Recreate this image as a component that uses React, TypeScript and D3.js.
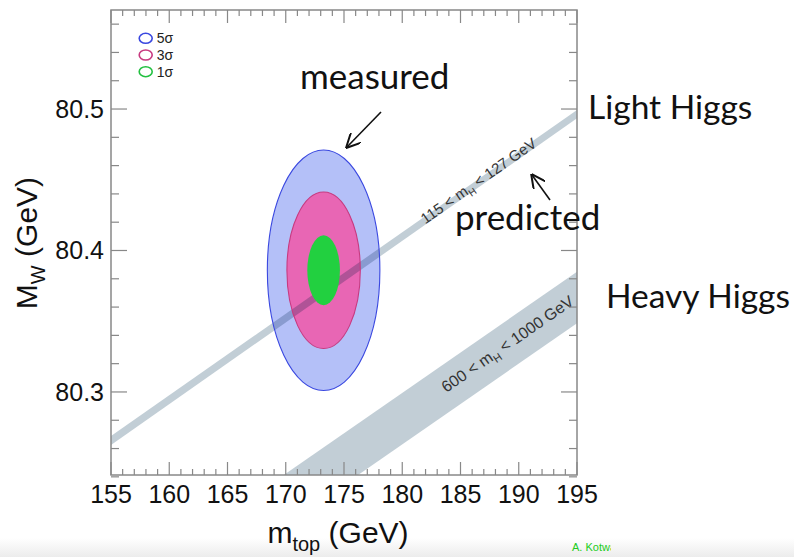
import React from 'react';
import * as d3 from 'd3';

// measured ellipses (5σ, 3σ, 1σ)
const sigmaLabels = ['5σ', '3σ', '1σ'];
const sigmaFill = ['#b4c0f8', '#e866b4', '#22d040'];
const sigmaStroke = ['#3a48e0', '#c83a80', '#22c040'];
const centerMtop = 173.25;
const centerMw = 80.386;
const halfMtop = [4.83, 3.15, 1.4];
const halfMw = [0.085, 0.0553, 0.0247];

// predicted bands, edges at mtop = 155 and 195
const bandMtop = [155, 195];
const lightLow = [80.2625, 80.4934];
const lightHigh = [80.2689, 80.4993];
const heavyLow = [80.1202, 80.3486];
const heavyHigh = [80.1566, 80.385];

const xTicks = [155, 160, 165, 170, 175, 180, 185, 190, 195];
const yTicks = [80.3, 80.4, 80.5];

const W = 794, H = 557;
const left = 111, right = 577, top = 10, bottom = 475;

export default function App() {
  const x = d3.scaleLinear().domain([155, 195]).range([left, right]);
  const y = d3.scaleLinear().domain([80.2413, 80.57]).range([bottom, top]);

  const xMinor = d3.range(155, 195.01, 1);
  const yMinor = d3.range(80.24, 80.5701, 0.02);

  const band = (lo: number[], hi: number[]) =>
    d3.line<[number, number]>().x(d => x(d[0])).y(d => y(d[1]))([
      [bandMtop[0], lo[0]], [bandMtop[1], lo[1]], [bandMtop[1], hi[1]], [bandMtop[0], hi[0]],
    ]) + 'Z';

  const angle = (lo: number[], hi: number[]) => {
    const y0 = y((lo[0] + hi[0]) / 2), y1 = y((lo[1] + hi[1]) / 2);
    return (Math.atan2(y1 - y0, x(bandMtop[1]) - x(bandMtop[0])) * 180) / Math.PI;
  };
  const midAt = (lo: number[], hi: number[], m: number) => {
    const t = (m - bandMtop[0]) / (bandMtop[1] - bandMtop[0]);
    return ((lo[0] + hi[0]) / 2) * (1 - t) + ((lo[1] + hi[1]) / 2) * t;
  };

  const ell = (i: number, fill: boolean) => (
    <ellipse key={'e' + i + fill}
      cx={x(centerMtop)} cy={y(centerMw)}
      rx={x(centerMtop + halfMtop[i]) - x(centerMtop)}
      ry={y(centerMw) - y(centerMw + halfMw[i])}
      fill={fill ? sigmaFill[i] : 'none'}
      stroke={fill ? 'none' : sigmaStroke[i]} strokeWidth={1.1} />
  );

  const axisFont = '"Liberation Sans", Arial, sans-serif';
  const noteFont = 'Lato, "Open Sans", sans-serif';
  const lightA = angle(lightLow, lightHigh);
  const heavyA = angle(heavyLow, heavyHigh);

  return (
    <svg width={W} height={H} style={{ position: 'absolute', left: 0, top: 0, background: '#fff' }}>
      <defs>
        <clipPath id="plot"><rect x={left} y={top} width={right - left} height={bottom - top} /></clipPath>
        <clipPath id="credit"><rect x={0} y={0} width={611} height={H} /></clipPath>
        <marker id="arr" viewBox="0 0 10 10" refX="9" refY="5" markerWidth="9" markerHeight="9" orient="auto-start-reverse">
          <path d="M0,0 L10,5 L0,10" fill="none" stroke="#111" strokeWidth={1.4} />
        </marker>
        <linearGradient id="foot" x1="0" y1="0" x2="0" y2="1">
          <stop offset="0" stopColor="#fff" />
          <stop offset="1" stopColor="#ececec" />
        </linearGradient>
      </defs>
      <rect x={0} y={538} width={W} height={H - 538} fill="url(#foot)" />

      <g clipPath="url(#plot)">
        {ell(0, true)}
        {ell(1, true)}
        <path d={band(lightLow, lightHigh)} fill="#c2ced6" style={{ mixBlendMode: 'multiply' }} />
        <path d={band(heavyLow, heavyHigh)} fill="#c2ced6" style={{ mixBlendMode: 'multiply' }} />
        {ell(2, true)}
        {ell(0, false)}
        {ell(1, false)}
      </g>

      {/* band labels */}
      <text transform={`translate(${x(186.8)},${y(midAt(lightLow, lightHigh, 186.8)) + 4}) rotate(${lightA})`}
        textAnchor="middle" fontFamily={axisFont} fontSize={15} fill="#333">
        115 &lt; m<tspan dy={4} fontSize={10}>H</tspan><tspan dy={-4}> &lt; 127 GeV</tspan>
      </text>
      <text transform={`translate(${x(189.3)},${y(midAt(heavyLow, heavyHigh, 189.3)) + 5}) rotate(${heavyA})`}
        textAnchor="middle" fontFamily={axisFont} fontSize={16} fill="#333">
        600 &lt; m<tspan dy={4} fontSize={11}>H</tspan><tspan dy={-4}> &lt; 1000 GeV</tspan>
      </text>

      {/* frame */}
      <rect x={left} y={top} width={right - left} height={bottom - top} fill="none" stroke="#888" strokeWidth={1.5} />
      <g stroke="#888" strokeWidth={1.2}>
        {xMinor.map(v => {
          const major = xTicks.some(t => Math.abs(t - v) < 1e-6);
          const len = major ? 13 : 6;
          return (
            <g key={'xt' + v}>
              <line x1={x(v)} x2={x(v)} y1={bottom} y2={bottom - len} />
              <line x1={x(v)} x2={x(v)} y1={top} y2={top + len} />
            </g>
          );
        })}
        {yMinor.map(v => {
          const major = yTicks.some(t => Math.abs(t - v) < 1e-6);
          const len = major ? 16 : 8;
          return (
            <g key={'yt' + v}>
              <line x1={left} x2={left + len} y1={y(v)} y2={y(v)} />
              <line x1={right} x2={right - len} y1={y(v)} y2={y(v)} />
            </g>
          );
        })}
      </g>

      {/* tick labels */}
      <g fontFamily={axisFont} fontSize={25} fill="#111">
        {xTicks.map(v => (
          <text key={'xl' + v} x={x(v)} y={503} textAnchor="middle">{v}</text>
        ))}
        {yTicks.map(v => (
          <text key={'yl' + v} x={104} y={y(v)} dy="0.35em" textAnchor="end">{v.toFixed(1)}</text>
        ))}
      </g>

      {/* axis titles */}
      <text x={338} y={543} textAnchor="middle" fontFamily={axisFont} fontSize={30} fill="#111">
        m<tspan dy={8} fontSize={20}>top</tspan><tspan dy={-8}> (GeV)</tspan>
      </text>
      <text transform="translate(37,243) rotate(-90)" textAnchor="middle" fontFamily={axisFont} fontSize={30} fill="#111">
        M<tspan dy={8} fontSize={20}>W</tspan><tspan dy={-8}> (GeV)</tspan>
      </text>

      {/* legend */}
      <g fontFamily={axisFont} fontSize={14} fill="#222">
        {sigmaLabels.map((s, i) => (
          <g key={s} transform={`translate(145.7,${38.3 + i * 16.7})`}>
            <ellipse rx={6.5} ry={5} fill="none" stroke={sigmaStroke[i]} strokeWidth={1.6} />
            <text x={11} dy="0.36em">{s}</text>
          </g>
        ))}
      </g>

      {/* annotations */}
      <g fontFamily={noteFont} fill="#111">
        <text x={300} y={89} fontSize={35}>measured</text>
        <text x={455} y={230} fontSize={35}>predicted</text>
        <text x={588} y={119} fontSize={33.5}>Light Higgs</text>
        <text x={606} y={308} fontSize={33.5}>Heavy Higgs</text>
      </g>
      <line x1={381} y1={112} x2={347} y2={147} stroke="#111" strokeWidth={1.6} markerEnd="url(#arr)" />
      <line x1={550} y1={200} x2={532} y2={175} stroke="#111" strokeWidth={1.6} markerEnd="url(#arr)" />

      <text x={572} y={551} clipPath="url(#credit)" fontFamily={axisFont} fontSize={11} fill="#22cc22">A. Kotwal</text>
    </svg>
  );
}
